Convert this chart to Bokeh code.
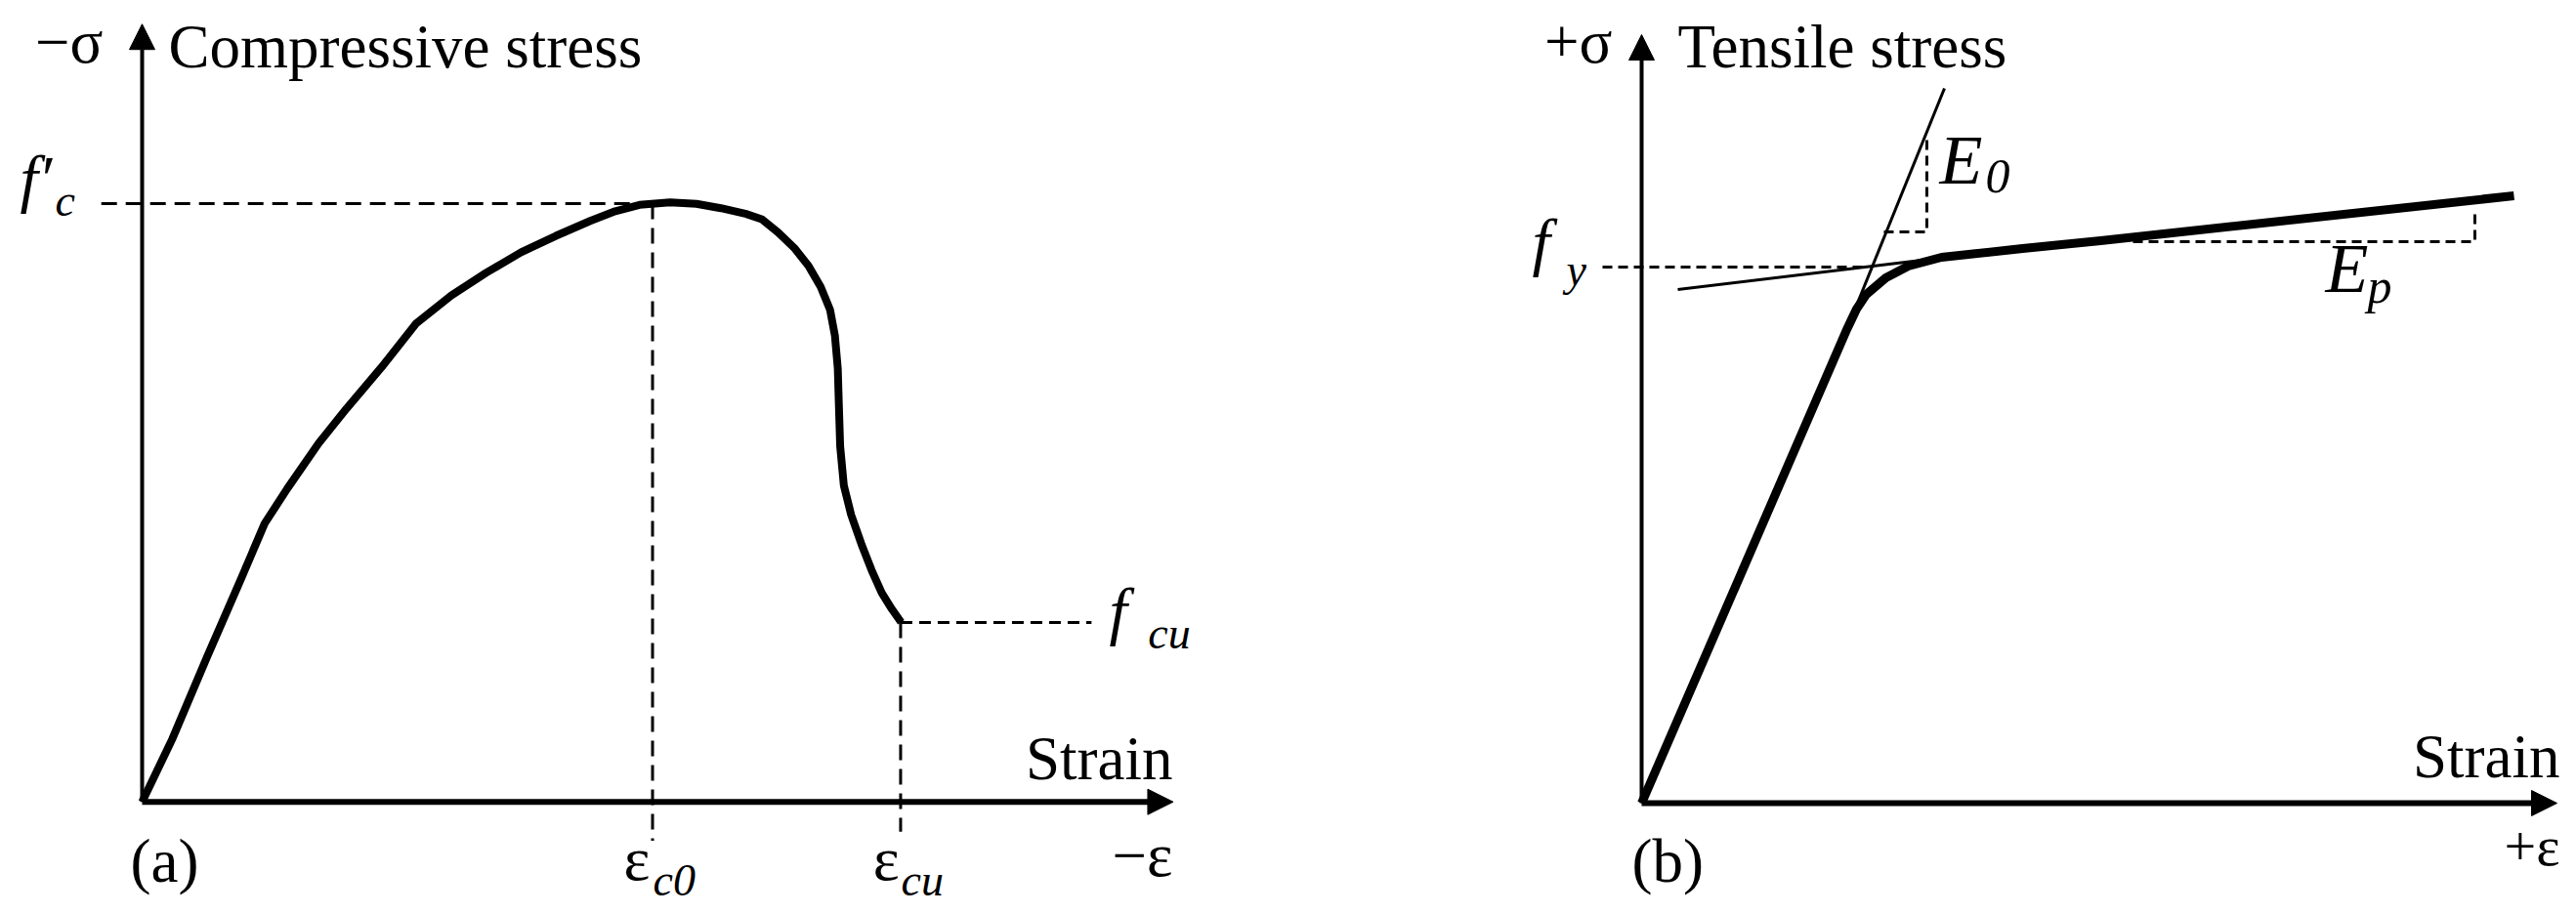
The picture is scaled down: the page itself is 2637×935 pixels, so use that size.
from bokeh.plotting import figure
from bokeh.layouts import row
from bokeh.models import Arrow, NormalHead, Range1d
from bokeh.core.properties import value
from bokeh.embed import file_html
from bokeh.resources import INLINE

# ---------------- data: panel (a) concrete in compression (strain / eps_c0, stress / f'c)
conc_strain = [0.0, 0.0588, 0.1271, 0.1954, 0.240, 0.2844, 0.3458, 0.4006, 0.4689,
               0.5372, 0.6056, 0.6739, 0.7424, 0.8107, 0.8790, 0.9269, 0.9745, 1.0343,
               1.0861, 1.1340, 1.1818, 1.2138, 1.2456, 1.2775, 1.3055, 1.3294, 1.3478,
               1.3573, 1.3629, 1.3652, 1.3676, 1.3748, 1.3891, 1.4092, 1.4291, 1.4490,
               1.4689, 1.4870]
conc_stress = [0.0, 0.1046, 0.2420, 0.3759, 0.4653, 0.5236, 0.5992, 0.6576, 0.7263,
               0.8000, 0.8464, 0.8843, 0.9186, 0.9461, 0.9714, 0.9873, 0.9979, 1.0021,
               0.9995, 0.9923, 0.9832, 0.9739, 0.9522, 0.9261, 0.8961, 0.8608, 0.8226,
               0.7792, 0.7247, 0.6594, 0.5941, 0.5288, 0.4798, 0.4309, 0.3875, 0.3493,
               0.3222, 0.3003]
eps_c0 = 1.0
eps_cu = 1.486
fc = 1.0
fcu = 0.300
a_eps_max = 2.02
a_sig_max = 1.30

# ---------------- data: panel (b) steel in tension (arbitrary units)
steel_strain = [0.0, 2.10, 2.20, 2.30, 2.50, 2.73, 3.07, 3.90, 4.70, 8.93]
steel_stress = [0.0, 4.85, 5.06, 5.21, 5.38, 5.50, 5.59, 5.68, 5.76, 6.22]
fy = 5.49
e0_line_strain = [2.10, 3.10]
e0_line_stress = [4.85, 7.32]
ep_line_strain = [0.37, 3.20]
ep_line_stress = [5.26, 5.60]
e0_tri_strain = [2.48, 2.92, 2.92]
e0_tri_stress = [5.85, 5.85, 6.84]
ep_tri_strain = [5.03, 8.53, 8.53]
ep_tri_stress = [5.75, 5.75, 6.07]
fy_dash_start = -0.40
fy_dash_end = 2.30
b_eps_max = 9.37
b_sig_max = 7.87

SERIF = value("Liberation Serif")
H = 932


def make_fig(w, x0, x1, y0, y1):
    p = figure(width=w, height=H, x_range=Range1d(x0, x1), y_range=Range1d(y0, y1),
               output_backend="svg", toolbar_location=None,
               x_axis_type=None, y_axis_type=None, min_border=0)
    p.outline_line_color = None
    p.background_fill_color = "white"
    p.border_fill_color = "white"
    return p


def txt(p, x, y, s, size, italic=False, align="left"):
    # lift so that the given y is the alphabetic baseline of the glyphs
    dy = 0.38 * size * (p.y_range.end - p.y_range.start) / H
    p.text(x=[x], y=[y + dy], text=[s], text_font=SERIF, text_font_size=f"{size}px",
           text_font_style="italic" if italic else "normal", text_align=align,
           text_baseline="alphabetic", text_color="black")


def axis_arrow(p, x0, y0, x1, y1, w):
    p.add_layout(Arrow(end=NormalHead(size=26, fill_color="black", line_color="black", line_width=1),
                       x_start=x0, y_start=y0, x_end=x1, y_end=y1,
                       line_width=w, line_color="black"))


# ================= panel (a)
pa = make_fig(1317, -0.27751, 2.24306, -0.18165, 1.33948)
axis_arrow(pa, 0, 0, 0, a_sig_max, 4)
axis_arrow(pa, 0, 0, a_eps_max, 0, 6)
pa.line([-0.08, eps_c0], [fc, fc], line_width=3, line_color="black", line_dash="16 9")
pa.line([eps_c0, eps_c0], [fc, -0.065], line_width=3, line_color="black", line_dash="16 9")
pa.line([eps_cu, eps_cu], [fcu, -0.05], line_width=3, line_color="black", line_dash="16 9")
pa.line([eps_cu, 1.860], [fcu, fcu], line_width=3, line_color="black", line_dash="12 7")
pa.line(conc_strain, conc_stress, line_width=8, line_color="black", line_join="round")

txt(pa, -0.0766, 1.2318, "−σ", 63, align="right")
txt(pa, 0.0517, 1.2236, "Compressive stress", 63)
txt(pa, -0.2392, 1.0016, "f′", 66, italic=True)
txt(pa, -0.1703, 0.977, "c", 46, italic=True)
txt(pa, 1.8947, 0.2786, "f", 66, italic=True)
txt(pa, 1.971, 0.2541, "cu", 46, italic=True)
txt(pa, 0.9952, -0.1343, "ε", 64, align="right")
txt(pa, 1.001, -0.1588, "c0", 46, italic=True)
txt(pa, 1.4833, -0.1343, "ε", 64, align="right")
txt(pa, 1.487, -0.1588, "cu", 46, italic=True)
txt(pa, -0.023, -0.1376, "(a)", 63)
txt(pa, 2.0191, -0.129, "−ε", 63, align="right")
txt(pa, 2.019, 0.0338, "Strain", 63, align="right")

# ================= panel (b)
pb = make_fig(1317, -3.63, 9.54, -1.10, 8.22)
axis_arrow(pb, 0, 0, 0, b_sig_max, 4)
axis_arrow(pb, 0, 0, b_eps_max, 0, 6)
pb.line([fy_dash_start, fy_dash_end], [fy, fy], line_width=3, line_color="black", line_dash="10 6")
pb.line(e0_tri_strain, e0_tri_stress, line_width=3, line_color="black", line_dash="10 6")
pb.line(ep_tri_strain, ep_tri_stress, line_width=3, line_color="black", line_dash="10 6")
pb.line(e0_line_strain, e0_line_stress, line_width=3, line_color="black")
pb.line(ep_line_strain, ep_line_stress, line_width=3, line_color="black")
pb.line(steel_strain, steel_stress, line_width=9, line_color="black", line_join="round")

txt(pb, -0.30, 7.56, "+σ", 63, align="right")
txt(pb, 0.37, 7.51, "Tensile stress", 63)
txt(pb, -1.12, 5.50, "f", 66, italic=True)
txt(pb, -0.77, 5.29, "y", 46, italic=True)
txt(pb, 3.05, 6.31, "E", 72, italic=True)
txt(pb, 3.52, 6.23, "0", 50, italic=True)
txt(pb, 7.00, 5.20, "E", 72, italic=True)
txt(pb, 7.43, 5.11, "p", 50, italic=True)
txt(pb, 9.40, 0.24, "Strain", 63, align="right")
txt(pb, -0.10, -0.83, "(b)", 63)
txt(pb, 9.40, -0.66, "+ε", 58, align="right")

layout = row(pa, pb, spacing=0)
open("out.html", "w").write(file_html(layout, INLINE))
